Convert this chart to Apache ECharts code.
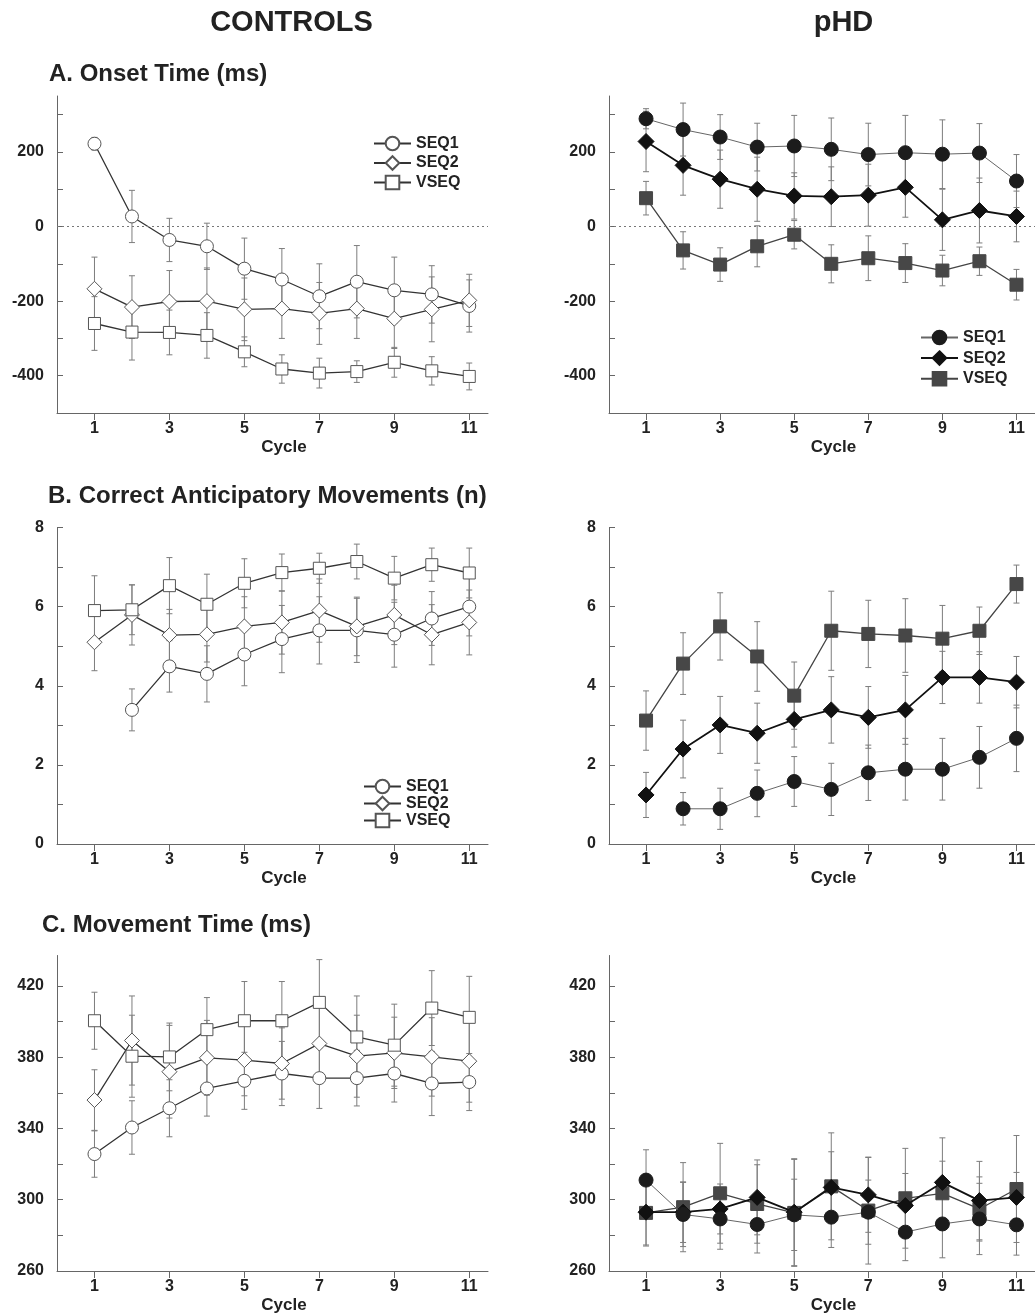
<!DOCTYPE html>
<html lang="en">
<head>
<meta charset="UTF-8">
<title>Controls vs pHD</title>
<script src="https://cdn.jsdelivr.net/npm/echarts@6/dist/echarts.min.js"></script>
<style>
  html, body { margin: 0; padding: 0; background: #fff; }
  #main { width: 1035px; height: 1315px; }
</style>
</head>
<body>
<div id="main"></div>
<script>
var cycles = [1, 2, 3, 4, 5, 6, 7, 8, 9, 10, 11];
var xTickValues = [1, 3, 5, 7, 9, 11];

var onsetTicks = [-400, -300, -200, -100, 0, 100, 200, 300];
var onsetLabels = [-400, -200, 0, 200];
var camTicks = [1, 2, 3, 4, 5, 6, 7, 8];
var camLabels = [0, 2, 4, 6, 8];
var mtTicks = [280, 300, 320, 340, 360, 380, 400, 420];
var mtLabels = [260, 300, 340, 380, 420];

// A. onset time (ms)
var ctrlOnsetSeq1 = [222, 27, -36, -53, -113, -142, -187, -148, -171, -182, -213];
var ctrlOnsetSeq1Err = [17, 70, 58, 62, 82, 83, 87, 97, 89, 77, 70];
var ctrlOnsetSeq2 = [-167, -216, -201, -200, -222, -220, -233, -220, -247, -222, -198];
var ctrlOnsetSeq2Err = [85, 84, 83, 89, 84, 80, 83, 80, 80, 87, 70];
var ctrlOnsetVseq = [-260, -283, -284, -292, -336, -382, -393, -389, -364, -387, -402];
var ctrlOnsetVseqErr = [72, 75, 60, 61, 40, 38, 40, 29, 40, 38, 36];

var phdOnsetSeq1 = [289, 260, 240, 213, 216, 207, 193, 198, 194, 197, 122];
var phdOnsetSeq1Err = [27, 71, 60, 64, 82, 84, 84, 100, 92, 79, 71];
var phdOnsetSeq2 = [228, 164, 127, 100, 82, 80, 84, 105, 18, 43, 27];
var phdOnsetSeq2Err = [81, 80, 78, 86, 62, 80, 83, 80, 82, 87, 68];
var phdOnsetVseq = [76, -64, -102, -53, -22, -100, -85, -98, -118, -93, -156];
var phdOnsetVseqErr = [45, 50, 45, 55, 38, 51, 60, 52, 41, 38, 41];

// B. correct anticipatory movements (n)
var ctrlCamSeq1 = [null, 3.39, 4.49, 4.30, 4.79, 5.18, 5.40, 5.40, 5.29, 5.70, 6.00];
var ctrlCamSeq1Err = [null, 0.53, 0.65, 0.71, 0.79, 0.85, 0.85, 0.81, 0.82, 0.68, 0.74];
var ctrlCamSeq2 = [5.10, 5.79, 5.28, 5.30, 5.50, 5.60, 5.90, 5.50, 5.79, 5.29, 5.60];
var ctrlCamSeq2Err = [0.72, 0.76, 0.65, 0.70, 0.75, 0.80, 0.80, 0.74, 0.75, 0.76, 0.82];
var ctrlCamVseq = [5.90, 5.92, 6.53, 6.06, 6.59, 6.86, 6.97, 7.14, 6.72, 7.06, 6.85];
var ctrlCamVseqErr = [0.88, 0.63, 0.71, 0.76, 0.62, 0.47, 0.38, 0.44, 0.55, 0.42, 0.63];

var phdCamSeq1 = [null, 0.89, 0.89, 1.28, 1.58, 1.38, 1.80, 1.89, 1.89, 2.19, 2.67];
var phdCamSeq1Err = [null, 0.41, 0.52, 0.59, 0.63, 0.66, 0.70, 0.78, 0.78, 0.78, 0.84];
var phdCamSeq2 = [1.24, 2.40, 3.01, 2.80, 3.15, 3.39, 3.20, 3.39, 4.21, 4.21, 4.09];
var phdCamSeq2Err = [0.57, 0.73, 0.72, 0.76, 0.70, 0.84, 0.78, 0.87, 0.66, 0.65, 0.65];
var phdCamVseq = [3.12, 4.56, 5.50, 4.74, 3.75, 5.39, 5.31, 5.27, 5.19, 5.39, 6.57];
var phdCamVseqErr = [0.75, 0.78, 0.85, 0.88, 0.85, 1.00, 0.85, 0.93, 0.84, 0.60, 0.48];

// C. movement time (ms)
var ctrlMtSeq1 = [325.6, 340.5, 351.3, 362.4, 366.7, 370.8, 368.2, 368.2, 370.8, 365.2, 366.0];
var ctrlMtSeq1Err = [13, 15, 16, 15.5, 16, 18, 17, 15.6, 16, 18, 16];
var ctrlMtSeq2 = [355.9, 389.3, 371.8, 379.6, 378.3, 376.4, 387.6, 380.5, 382.4, 380.1, 377.7];
var ctrlMtSeq2Err = [17, 25, 26, 21, 20, 20, 22, 23, 20, 22, 23];
var ctrlMtVseq = [400.4, 380.5, 380.1, 395.4, 400.4, 400.4, 410.7, 391.3, 386.7, 407.5, 402.3];
var ctrlMtVseqErr = [16, 23, 19, 18, 22, 22, 24, 23, 23, 21, 23];

var phdMtSeq1 = [311.0, 291.7, 289.2, 286.1, 291.5, 290.2, 293.0, 281.8, 286.4, 289.2, 285.9];
var phdMtSeq1Err = [17, 18, 17, 16, 20, 17, 18, 16, 19, 20, 17];
var phdMtSeq2 = [293.0, 293.0, 294.8, 301.3, 293.0, 306.9, 302.7, 296.7, 309.7, 299.5, 301.3];
var phdMtSeq2Err = [19, 17, 14, 21, 30, 20, 21, 18, 25, 22, 14];
var phdMtVseq = [292.6, 295.8, 303.6, 297.6, 292.6, 307.5, 293.9, 300.8, 303.6, 294.8, 306.0];
var phdMtVseqErr = [18, 25, 28, 22, 30, 30, 30, 28, 18, 18, 30];

var FONT = "'Liberation Sans', Arial, Helvetica, sans-serif";
var TXT = '#222';

// marker / line look of the two groups
var ctrlStyles = [
    { name: 'SEQ1', symbol: 'circle', size: 13, fill: '#fff', border: '#555', line: '#333', lw: 1.3 },
    { name: 'SEQ2', symbol: 'diamond', size: 15, fill: '#fff', border: '#555', line: '#333', lw: 1.3 },
    { name: 'VSEQ', symbol: 'rect', size: 12, fill: '#fff', border: '#555', line: '#333', lw: 1.3 }
];
var phdStyles = [
    { name: 'pHD SEQ1', symbol: 'circle', size: 14, fill: '#1c1c1c', border: '#1c1c1c', line: '#666', lw: 1 },
    { name: 'pHD SEQ2', symbol: 'diamond', size: 16, fill: '#111', border: '#111', line: '#111', lw: 1.8 },
    { name: 'pHD VSEQ', symbol: 'rect', size: 13, fill: '#474747', border: '#474747', line: '#444', lw: 1.3 }
];

var panels = [
    { left: 57, top: 96, h: 317, w: 431, yMin: -500, yMax: 350, ticks: onsetTicks, labels: onsetLabels, zero: true, styles: ctrlStyles,
      sets: [[ctrlOnsetSeq1, ctrlOnsetSeq1Err], [ctrlOnsetSeq2, ctrlOnsetSeq2Err], [ctrlOnsetVseq, ctrlOnsetVseqErr]] },
    { left: 609, top: 96, h: 317, w: 432, yMin: -500, yMax: 350, ticks: onsetTicks, labels: onsetLabels, zero: true, styles: phdStyles,
      sets: [[phdOnsetSeq1, phdOnsetSeq1Err], [phdOnsetSeq2, phdOnsetSeq2Err], [phdOnsetVseq, phdOnsetVseqErr]] },
    { left: 57, top: 527.5, h: 316.5, w: 431, yMin: 0, yMax: 8, ticks: camTicks, labels: camLabels, styles: ctrlStyles,
      sets: [[ctrlCamSeq1, ctrlCamSeq1Err], [ctrlCamSeq2, ctrlCamSeq2Err], [ctrlCamVseq, ctrlCamVseqErr]] },
    { left: 609, top: 527.5, h: 316.5, w: 432, yMin: 0, yMax: 8, ticks: camTicks, labels: camLabels, styles: phdStyles,
      sets: [[phdCamSeq1, phdCamSeq1Err], [phdCamSeq2, phdCamSeq2Err], [phdCamVseq, phdCamVseqErr]] },
    { left: 57, top: 955.5, h: 317, w: 431, yMin: 260, yMax: 437, ticks: mtTicks, labels: mtLabels, styles: ctrlStyles,
      sets: [[ctrlMtSeq1, ctrlMtSeq1Err], [ctrlMtSeq2, ctrlMtSeq2Err], [ctrlMtVseq, ctrlMtVseqErr]] },
    { left: 609, top: 955.5, h: 317, w: 432, yMin: 260, yMax: 437, ticks: mtTicks, labels: mtLabels, styles: phdStyles,
      sets: [[phdMtSeq1, phdMtSeq1Err], [phdMtSeq2, phdMtSeq2Err], [phdMtVseq, phdMtVseqErr]] }
];

function toPoints(vals) {
    var out = [];
    cycles.forEach(function (c, i) { if (vals[i] != null) out.push([c, vals[i]]); });
    return out;
}
function toBars(vals, errs) {
    var out = [];
    cycles.forEach(function (c, i) {
        if (vals[i] != null) out.push([c, vals[i] - errs[i], vals[i] + errs[i]]);
    });
    return out;
}

// error bar: vertical whisker with small caps
function renderErr(params, api) {
    var x = api.value(0);
    var lo = api.coord([x, api.value(1)]);
    var hi = api.coord([x, api.value(2)]);
    var st = { stroke: '#7d7d7d', lineWidth: 1 };
    var c = 3;
    return {
        type: 'group',
        children: [
            { type: 'line', shape: { x1: lo[0], y1: lo[1], x2: hi[0], y2: hi[1] }, style: st },
            { type: 'line', shape: { x1: lo[0] - c, y1: lo[1], x2: lo[0] + c, y2: lo[1] }, style: st },
            { type: 'line', shape: { x1: hi[0] - c, y1: hi[1], x2: hi[0] + c, y2: hi[1] }, style: st }
        ]
    };
}

var grids = [], xAxes = [], yAxes = [], series = [];

panels.forEach(function (p, k) {
    grids.push({ left: p.left, top: p.top, width: p.w, height: p.h });
    xAxes.push({
        type: 'value', gridIndex: k, min: 0, max: 11.5,
        name: 'Cycle', nameLocation: 'middle', nameGap: 26,
        nameTextStyle: { fontFamily: FONT, fontWeight: 'bold', fontSize: 17, color: TXT, padding: [0, 0, 0, 23] },
        splitLine: { show: false },
        axisLine: { onZero: false, lineStyle: { color: '#666', width: 1 } },
        axisTick: { length: 7, lineStyle: { color: '#666' }, customValues: xTickValues },
        axisLabel: { customValues: xTickValues, margin: 8, fontFamily: FONT, fontWeight: 'bold', fontSize: 16, color: TXT }
    });
    yAxes.push({
        type: 'value', gridIndex: k, min: p.yMin, max: p.yMax,
        splitLine: { show: false },
        axisLine: { show: true, onZero: false, lineStyle: { color: '#666', width: 1 } },
        axisTick: { show: true, inside: true, length: 6, lineStyle: { color: '#666' }, customValues: p.ticks },
        axisLabel: { customValues: p.labels, margin: 13, fontFamily: FONT, fontWeight: 'bold', fontSize: 16, color: TXT }
    });

    p.sets.forEach(function (set, j) {
        var s = p.styles[j];
        series.push({
            type: 'custom', name: s.name + ' err', xAxisIndex: k, yAxisIndex: k, z: 1,
            silent: true, renderItem: renderErr, encode: { x: 0, y: [1, 2] },
            data: toBars(set[0], set[1])
        });
        var line = {
            type: 'line', name: s.name, xAxisIndex: k, yAxisIndex: k, z: 3 + (p.styles === ctrlStyles ? 0 : 2 - j),
            symbol: s.symbol, symbolSize: s.size, showSymbol: true,
            color: s.line,
            lineStyle: { color: s.line, width: s.lw },
            itemStyle: { color: s.fill, borderColor: s.border, borderWidth: 1 },
            data: toPoints(set[0])
        };
        if (p.zero && j === 0) {
            line.markLine = {
                silent: true, symbol: ['none', 'none'], label: { show: false },
                emphasis: { disabled: true },
                lineStyle: { type: [2, 3], color: '#777', width: 1 },
                data: [{ yAxis: 0 }]
            };
        }
        series.push(line);
    });
});

var legendBase = {
    orient: 'vertical', selectedMode: false, itemWidth: 37, itemHeight: 17, padding: 0,
    textStyle: { fontFamily: FONT, fontWeight: 'bold', fontSize: 16, color: TXT, lineHeight: 16 }
};
function legendAt(names, left, top, gap, fmt) {
    var l = Object.assign({}, legendBase, { data: names, left: left, top: top, itemGap: gap });
    if (fmt) l.formatter = fmt;
    return l;
}

function headText(text, x, y, size, align) {
    return {
        type: 'text', x: x, y: y,
        style: { text: text, font: 'bold ' + size + 'px ' + FONT, fill: TXT, textAlign: align, textVerticalAlign: 'middle' }
    };
}

var myChart = echarts.init(document.getElementById('main'));
myChart.setOption({
    backgroundColor: '#fff',
    animation: false,
    grid: grids,
    xAxis: xAxes,
    yAxis: yAxes,
    legend: [
        legendAt(['SEQ1', 'SEQ2', 'VSEQ'], 373, 135.5, 3.5),
        legendAt(['pHD SEQ1', 'pHD SEQ2', 'pHD VSEQ'], 920, 329.5, 4.6, function (n) { return n.replace('pHD ', ''); }),
        legendAt(['SEQ1', 'SEQ2', 'VSEQ'], 363, 778.5, 1)
    ],
    graphic: [
        headText('CONTROLS', 291.5, 22.6, 29, 'center'),
        headText('pHD', 843.5, 23.3, 29, 'center'),
        headText('A. Onset Time (ms)', 49, 74, 24, 'left'),
        headText('B. Correct Anticipatory Movements (n)', 48, 496, 24, 'left'),
        headText('C. Movement Time (ms)', 42, 925, 24, 'left')
    ],
    series: series
});
</script>
</body>
</html>
